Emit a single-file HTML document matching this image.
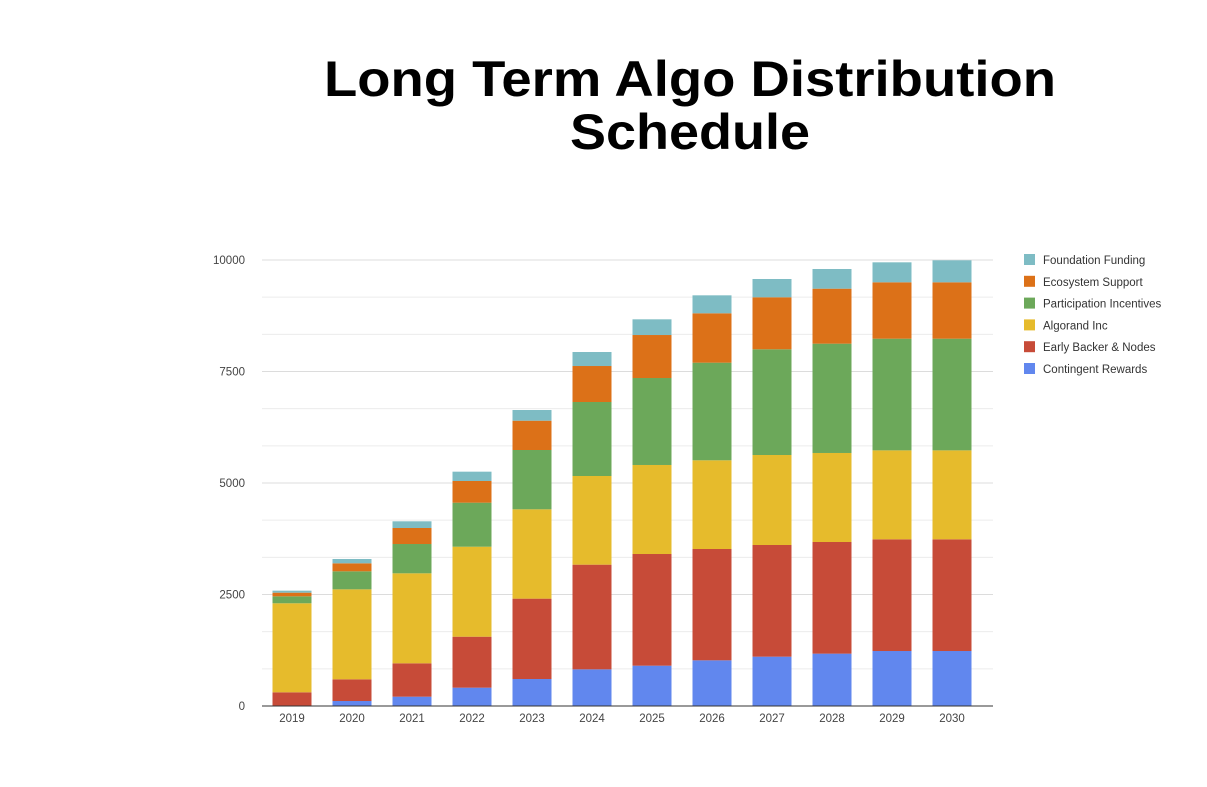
<!DOCTYPE html>
<html><head><meta charset="utf-8"><style>
html,body{margin:0;padding:0;background:#fff;}
svg{display:block;font-family:"Liberation Sans",Arial,sans-serif;}
</style></head><body>
<svg id="chart" width="1207" height="787" viewBox="0 0 1207 787" xmlns="http://www.w3.org/2000/svg">
<text x="690" y="96" text-anchor="middle" font-size="50" font-weight="bold" textLength="732" lengthAdjust="spacingAndGlyphs" fill="#000">Long Term Algo Distribution</text>
<text x="690" y="149" text-anchor="middle" font-size="50" font-weight="bold" textLength="240" lengthAdjust="spacingAndGlyphs" fill="#000">Schedule</text>
<g id="grid"></g><g id="bars"></g><g id="axes"></g><g id="legend"></g>
</svg>
<script>
const categories = ["2019","2020","2021","2022","2023","2024","2025","2026","2027","2028","2029","2030"];
const seriesNames = ["Contingent Rewards","Early Backer & Nodes","Algorand Inc","Participation Incentives","Ecosystem Support","Foundation Funding"];
const contingentRewards = [0,112,209,411,605,822,904,1024,1106,1174,1233,1233];
const earlyBacker = [307,486,748,1143,1802,2347,2504,2496,2504,2503,2504,2504];
const algorandInc = [1996,2018,2018,2018,2003,1988,1996,1989,2018,1996,1995,1995];
const participation = [156,404,657,987,1330,1659,1950,2189,2370,2451,2504,2504];
const ecosystem = [82,179,359,486,657,807,964,1107,1166,1233,1264,1264];
const foundation = [45,97,150,209,240,314,352,403,410,441,448,493];
const yTicks = [0,2500,5000,7500,10000];
const colors = ["#6187ee","#c74b38","#e6bb2c","#6ca85a","#dc7118","#7ebcc4"];
const series = [contingentRewards,earlyBacker,algorandInc,participation,ecosystem,foundation];
const NS="http://www.w3.org/2000/svg";
const plotL=262, plotR=993, y0=706, yTop=260, yMax=10000;
const band=60, firstCenter=292;
function y(v){return y0-(v/yMax)*(y0-yTop);}
function xc(i){return firstCenter+band*i;}
function mk(tag,attrs,parent){const e=document.createElementNS(NS,tag);for(const k in attrs)e.setAttribute(k,attrs[k]);parent.appendChild(e);return e;}
const grid=document.getElementById('grid');
for(let k=1;k<=12;k++){const v=k*yMax/12;
 const l=mk('line',{x1:plotL,x2:plotR,y1:y(v),y2:y(v),stroke:(k%3===0)?'#dcdcdc':'#ececec','stroke-width':1},grid);
 
 
}
const axes=document.getElementById('axes');
yTicks.forEach(v=>{const t=mk('text',{x:245,y:y(v)+4,'text-anchor':'end','font-size':11.5,fill:'#444'},axes);t.textContent=v;
 
 
});
const bars=document.getElementById('bars');
const bw=39;
categories.forEach((c,i)=>{let cum=0;
 series.forEach((s,j)=>{const v=s[i];if(v<=0)return;const top=y(cum+v),bot=y(cum);
  const r=mk('rect',{x:xc(i)-bw/2,y:top,width:bw,height:bot-top,fill:colors[j]},bars);
  
  
  cum+=v;});
 const t=mk('text',{x:xc(i),y:722,'text-anchor':'middle','font-size':11.5,fill:'#444'},axes);t.textContent=c;
 
 
});
const base=mk('line',{x1:plotL,x2:plotR,y1:y0,y2:y0,stroke:'#333','stroke-width':1},axes);


const legend=document.getElementById('legend');
for(let j=5;j>=0;j--){const row=5-j;const ly=260+row*21.8;
 const g=mk('g',{},legend);
 
 
 mk('rect',{x:1024,y:ly-6,width:11,height:11,fill:colors[j]},g);
 const t=mk('text',{x:1043,y:ly+4,'font-size':11.5,fill:'#333'},g);t.textContent=seriesNames[j];
}
</script>
</body></html>
